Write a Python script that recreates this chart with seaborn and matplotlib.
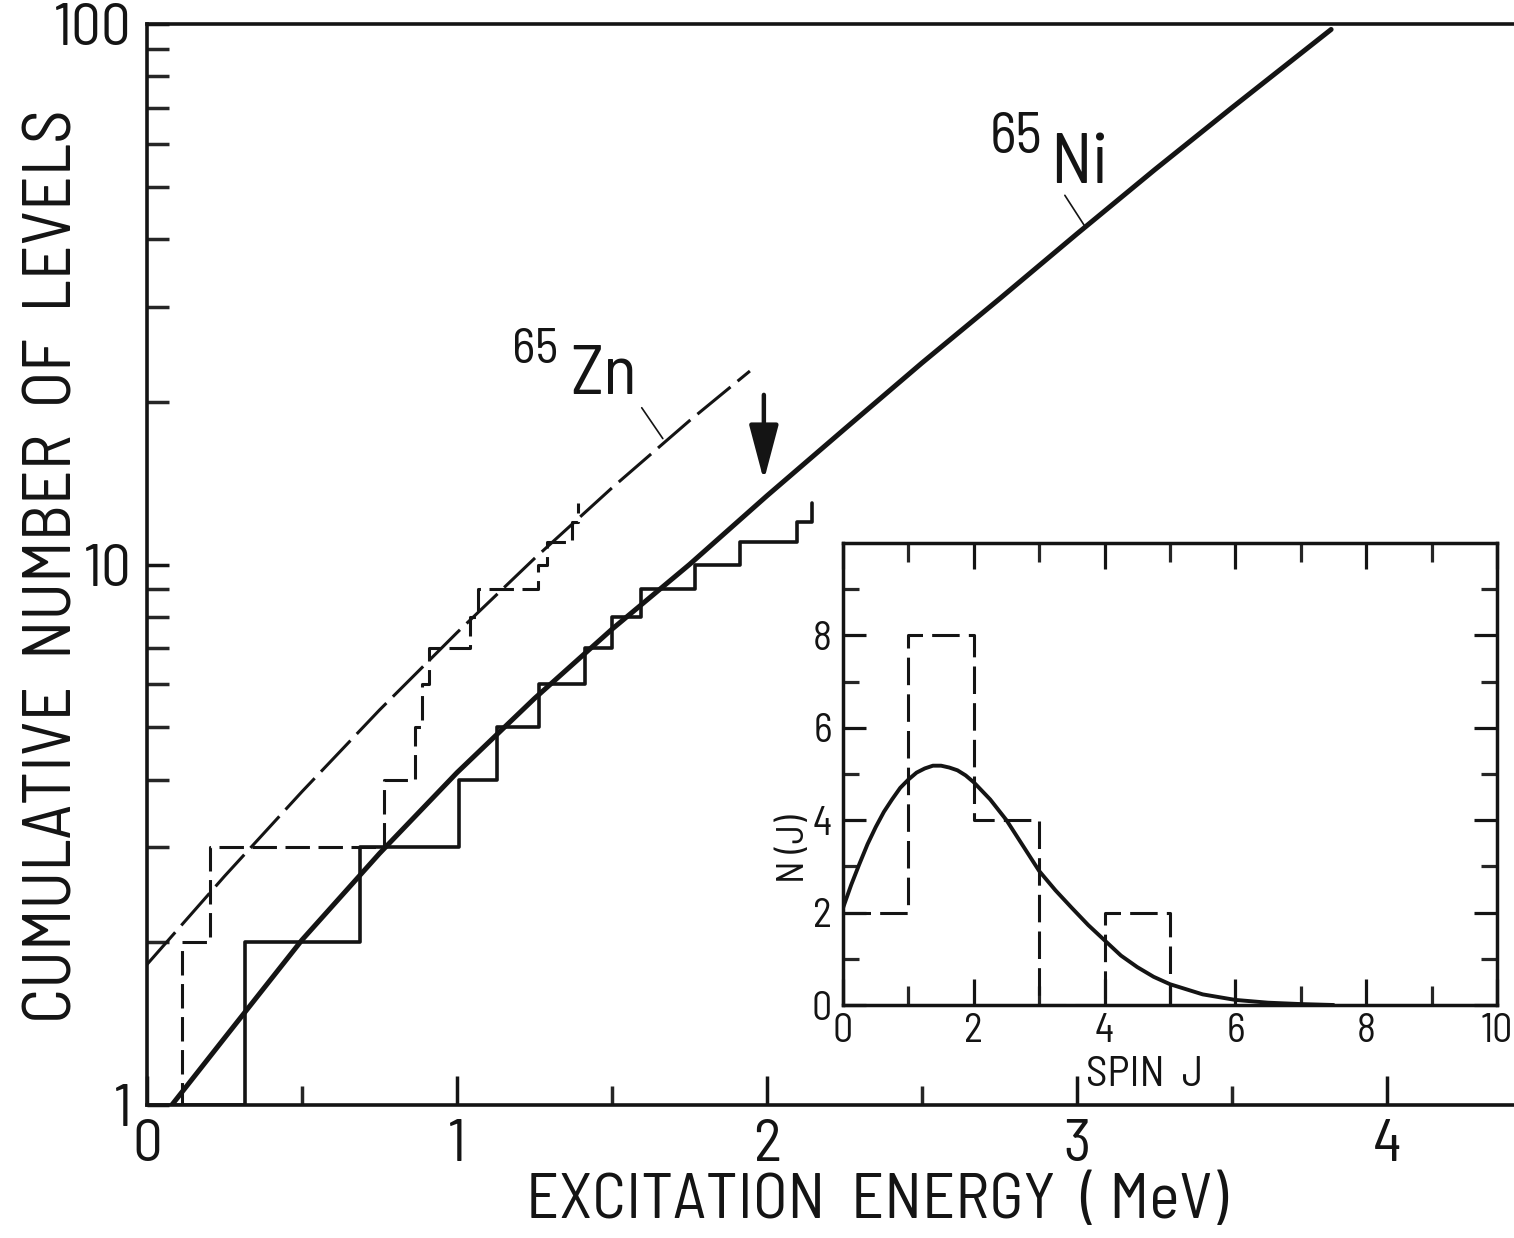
import matplotlib
matplotlib.use("Agg")
import matplotlib.pyplot as plt
from matplotlib import font_manager
from matplotlib.font_manager import FontProperties
from matplotlib.textpath import TextPath
from matplotlib.ticker import FixedLocator, NullFormatter, FuncFormatter
import pandas as pd
import seaborn as sns

# 65Ni level scheme: energy (MeV) at which the cumulative count steps up
ni_E = [0.0, 0.316, 0.687, 1.007, 1.13, 1.265, 1.413, 1.50, 1.594, 1.768, 1.913, 2.096, 2.144]
ni_N = [1, 2, 3, 4, 5, 6, 7, 8, 9, 10, 11, 12, 13]

# 65Zn level scheme
zn_E = [0.0, 0.112, 0.203, 0.765, 0.864, 0.886, 0.911, 1.042, 1.069, 1.262, 1.289, 1.37, 1.39]
zn_N = [1, 2, 3, 4, 5, 6, 7, 8, 9, 10, 11, 12, 13]

# level density curves
ni_fit_E = [0.08, 0.25, 0.5, 0.75, 1.0, 1.25, 1.5, 1.75, 2.0, 2.25, 2.5, 2.75, 3.0, 3.25, 3.5, 3.82]
ni_fit_N = [1.0, 1.33, 2.02, 2.92, 4.12, 5.65, 7.59, 10.0, 13.4, 17.8, 23.6, 31.0, 40.9, 53.7, 70.0, 97.7]

zn_fit_E = [0.0, 0.25, 0.5, 0.75, 1.0, 1.25, 1.5, 1.75, 1.945]
zn_fit_N = [1.82, 2.65, 3.80, 5.38, 7.48, 10.26, 13.86, 18.45, 22.8]

# inset: spin distribution
spin_J = [0, 1, 2, 3, 4, 5]
spin_count = [2, 8, 4, 0, 2, 0]
spin_fit_J = [0, 0.125, 0.25, 0.375, 0.5, 0.625, 0.75, 0.875, 1.0, 1.125, 1.25, 1.375,
              1.5, 1.625, 1.75, 1.875, 2.0, 2.25, 2.5, 2.75, 3.0, 3.25, 3.5, 3.75,
              4.0, 4.25, 4.5, 4.75, 5.0, 5.5, 6.0, 6.5, 7.0, 7.5]
spin_fit_N = [2.1, 2.6, 3.05, 3.48, 3.85, 4.18, 4.45, 4.7, 4.88, 5.03, 5.12, 5.18,
              5.18, 5.14, 5.08, 4.97, 4.82, 4.45, 4.0, 3.45, 2.9, 2.48, 2.1, 1.73,
              1.4, 1.07, 0.82, 0.61, 0.45, 0.23, 0.11, 0.05, 0.02, 0.0]

# annotation anchors (E, N)
arrow_tail = (1.99, 20.6)
arrow_tip = (1.99, 14.3)
zn_leader = [(1.596, 19.5), (1.664, 17.1)]
ni_leader = [(2.961, 48.2), (3.026, 42.2)]

sns.set_style("ticks")
names = {f.name for f in font_manager.fontManager.ttflist}
font = "DejaVu Sans"
for cand in ["Barlow Semi Condensed", "Roboto Condensed", "Sofia Sans Condensed",
             "Saira SemiCondensed", "Liberation Sans Narrow", "Liberation Sans"]:
    if cand in names:
        font = cand
        break
plt.rcParams["font.family"] = [font, "DejaVu Sans"]
fp = FontProperties(family=font)
cap = TextPath((0, 0), "H", size=100, prop=fp).get_extents().height / 100


def size_for(cap_px, text=None, width_px=None):
    # font size (pt) giving a cap height of cap_px, shrunk if text gets too wide
    s = cap_px / cap * 72 / 100
    if text:
        w = TextPath((0, 0), text, size=s, prop=fp).get_extents().width * 100 / 72
        if w > width_px:
            s *= width_px / w
    return s


W, H = 1514, 1238
fig = plt.figure(figsize=(W / 100, H / 100), dpi=100)
fig.patch.set_facecolor("white")


def fx(x):
    return x / W


def fy(y):
    return 1 - y / H


ink = "#141414"

# ---------------- main panel ----------------
ax = fig.add_axes([fx(147), fy(1105), fx(1514 - 147), (1105 - 24) / H])
ax.set_yscale("log")

steps_ni = pd.DataFrame({"E": ni_E, "N": ni_N})
steps_zn = pd.DataFrame({"E": zn_E, "N": zn_N})
sns.lineplot(data=steps_ni, x="E", y="N", ax=ax, color=ink, lw=2.6,
             drawstyle="steps-post", sort=False, estimator=None)
sns.lineplot(data=steps_zn, x="E", y="N", ax=ax, color=ink, lw=2.2,
             drawstyle="steps-post", sort=False, estimator=None,
             linestyle=(0, (8, 2.8)))
sns.lineplot(x=ni_fit_E, y=ni_fit_N, ax=ax, color=ink, lw=3.6, sort=False,
             estimator=None)
sns.lineplot(x=zn_fit_E, y=zn_fit_N, ax=ax, color=ink, lw=2.2, sort=False,
             estimator=None, linestyle=(0, (14, 3)))

ax.set_xlim(0, 4.41)
ax.set_ylim(1, 100)
ax.set_xlabel("")
ax.set_ylabel("")

tick_fs = size_for(42, "100", 72)
ax.xaxis.set_major_locator(FixedLocator([0, 1, 2, 3, 4]))
ax.xaxis.set_minor_locator(FixedLocator([0.5, 1.5, 2.5, 3.5]))
ax.yaxis.set_major_locator(FixedLocator([1, 10, 100]))
ax.yaxis.set_minor_locator(FixedLocator([2, 3, 4, 5, 6, 7, 8, 9,
                                         20, 30, 40, 50, 60, 70, 80, 90]))
ax.yaxis.set_major_formatter(FuncFormatter(lambda v, p: "%d" % round(v)))
ax.yaxis.set_minor_formatter(NullFormatter())
ax.tick_params(axis="x", which="major", direction="in", length=21, width=2.5,
               labelsize=tick_fs, pad=10, colors=ink)
ax.tick_params(axis="x", which="minor", direction="in", length=14, width=2.5)
ax.tick_params(axis="y", which="major", direction="in", length=16, width=2.5,
               labelsize=tick_fs, pad=11, colors=ink)
ax.tick_params(axis="y", which="minor", direction="in", length=16, width=2.5)
for side in ["left", "bottom", "top"]:
    ax.spines[side].set_linewidth(2.6)
    ax.spines[side].set_color(ink)
ax.spines["right"].set_visible(False)

ax.annotate("", xy=arrow_tip, xytext=arrow_tail,
            arrowprops=dict(arrowstyle="-|>,head_length=3.4,head_width=0.9",
                            lw=3.2, color=ink, shrinkA=0, shrinkB=0,
                            mutation_scale=10))
ax.plot(*zip(*zn_leader), color=ink, lw=1.2)
ax.plot(*zip(*ni_leader), color=ink, lw=1.2)

fig.text(fx(512), fy(363), "65", fontsize=size_for(35, "65", 48), color=ink, va="baseline")
fig.text(fx(570), fy(394), "Zn", fontsize=size_for(49, "Zn", 80), color=ink, va="baseline")
fig.text(fx(990), fy(153), "65", fontsize=size_for(40, "65", 52), color=ink, va="baseline")
fig.text(fx(1050), fy(183), "Ni", fontsize=size_for(50, "Ni", 58), color=ink, va="baseline")

xlab = "EXCITATION  ENERGY  ( MeV)"
ylab = "CUMULATIVE  NUMBER  OF  LEVELS"
fig.text(fx(877), fy(1202), xlab, fontsize=size_for(45, xlab, 705),
         color=ink, ha="center", va="center")
fig.text(fx(55), fy(566), ylab, fontsize=size_for(47, ylab, 948),
         color=ink, ha="center", va="center", rotation=90)

# ---------------- inset ----------------
ins = fig.add_axes([fx(843), fy(1005), fx(1497 - 843), (1005 - 543) / H])
ins.set_facecolor("white")
hist = pd.DataFrame({"J": spin_J, "N": spin_count})
sns.lineplot(data=hist, x="J", y="N", ax=ins, color=ink, lw=2.2,
             drawstyle="steps-post", sort=False, estimator=None,
             linestyle=(0, (9, 3)))
sns.lineplot(x=spin_fit_J, y=spin_fit_N, ax=ins, color=ink, lw=2.8,
             sort=False, estimator=None)
ins.set_xlim(0, 10)
ins.set_ylim(0, 10)
ins.set_xlabel("")
ins.set_ylabel("")
in_fs = size_for(28, "10", 36)
ins.xaxis.set_major_locator(FixedLocator([0, 2, 4, 6, 8, 10]))
ins.xaxis.set_minor_locator(FixedLocator([1, 3, 5, 7, 9]))
ins.yaxis.set_major_locator(FixedLocator([0, 2, 4, 6, 8]))
ins.yaxis.set_minor_locator(FixedLocator([1, 3, 5, 7, 9]))
ins.tick_params(axis="x", which="major", direction="in", length=19, width=2.3,
                top=True, labelsize=in_fs, pad=6, colors=ink)
ins.tick_params(axis="x", which="minor", direction="in", length=13.5, width=2.3,
                top=True)
ins.tick_params(axis="y", which="major", direction="in", length=16.5, width=2.3,
                right=True, labelsize=in_fs, pad=8, colors=ink)
ins.tick_params(axis="y", which="minor", direction="in", length=11.5, width=2.3,
                right=True)
for side in ins.spines.values():
    side.set_linewidth(2.5)
    side.set_color(ink)

fig.text(fx(1145), fy(1076), "SPIN  J", fontsize=size_for(30, "SPIN  J", 112),
         color=ink, ha="center", va="center")
fig.text(fx(795), fy(849), "N (J)", fontsize=size_for(27, "N (J)", 84),
         color=ink, ha="center", va="center", rotation=90)

fig.savefig("out.png", dpi=100, facecolor="white")
